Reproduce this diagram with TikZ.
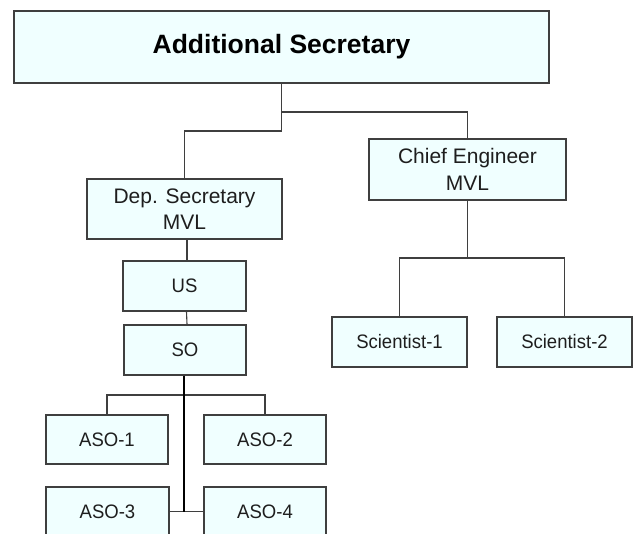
\documentclass[tikz,border=0pt]{standalone}
\usepackage{fontspec}
\setmainfont{Liberation Sans}
\newfontfamily\condsans[FakeStretch=0.95]{Liberation Sans}
\definecolor{boxfill}{HTML}{F0FFFF}
\definecolor{boxline}{HTML}{3F3F3F}
\definecolor{txt}{HTML}{1E1E1E}
\begin{document}
\begin{tikzpicture}[x=1pt,y=-1pt,
  box/.style={draw=boxline,fill=boxfill,line width=1.3pt,inner sep=0pt,text=txt,align=center},
  small/.style={box,font=\condsans\fontsize{19.5}{22}\selectfont},
  big/.style={box,font=\fontsize{21}{26.5}\selectfont},
  conn/.style={draw=boxline,line width=1.1pt},
  thick conn/.style={draw=black,line width=1.8pt}]
\path[use as bounding box] (0,0) rectangle (634,534);
\clip (0,0) rectangle (634,534);
\node[box,minimum width=535pt,minimum height=72pt,font=\bfseries\fontsize{26.5}{30}\selectfont,text=black] (top) at (281.5,47) {Additional Secretary};
\node[big,minimum width=195pt,minimum height=60pt] (dep) at (184.5,209) {Dep. Secretary\\MVL};
\node[big,minimum width=197pt,minimum height=61pt] (chief) at (467.5,169.5) {Chief Engineer\\MVL};
\node[small,minimum width=123pt,minimum height=50pt] (us) at (184.5,286) {US};
\node[small,minimum width=122pt,minimum height=50pt] (so) at (185,350) {SO};
\node[small,minimum width=122pt,minimum height=49pt] (aso1) at (107,439.5) {ASO-1};
\node[small,minimum width=122pt,minimum height=49pt] (aso2) at (265,439.5) {ASO-2};
\node[small,minimum width=123pt,minimum height=49pt] (aso3) at (107.5,511.5) {ASO-3};
\node[small,minimum width=122pt,minimum height=49pt] (aso4) at (265,511.5) {ASO-4};
\node[small,minimum width=135pt,minimum height=50pt] (sci1) at (399.5,342) {Scientist-1};
\node[small,minimum width=135pt,minimum height=50pt] (sci2) at (564.5,342) {Scientist-2};
\coordinate (jA) at (281.5,131);
\coordinate (jB) at (281.5,112);
\coordinate (jC) at (184,395);
\coordinate (jD) at (184,511.5);
\coordinate (jE) at (467.5,258);
% connectors
\draw[conn] (top.south) -- (jA) -| (dep.north);
\draw[conn] (jB) -| (chief.north);
\draw[conn] ([xshift=2.5pt]dep.south) -- ([xshift=2.5pt]us.north);
\draw[conn] ([xshift=2pt]us.south) -- ([xshift=2pt]so.north);
\draw[conn] (aso1.north) |- (jC) -| (aso2.north);
\draw[conn] (aso3.east) -- (aso4.west);
\draw[thick conn] ([xshift=-1pt]so.south) -- (jD);
\draw[conn] (chief.south) -- (jE);
\draw[conn] (sci1.north) |- (jE) -| (sci2.north);
\end{tikzpicture}
\end{document}
